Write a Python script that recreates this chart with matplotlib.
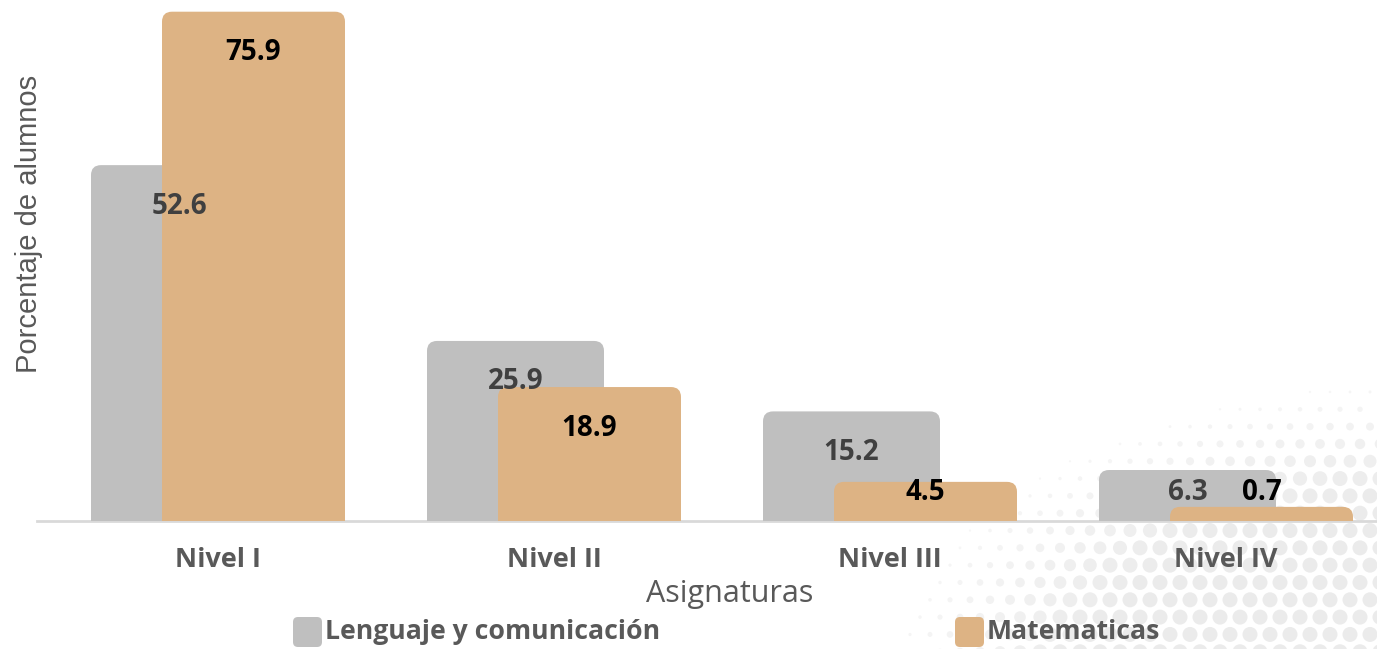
import numpy as np
import matplotlib
matplotlib.use("Agg")
import matplotlib.pyplot as plt
from matplotlib.patches import FancyBboxPatch
from matplotlib.transforms import IdentityTransform

# datos
niveles = ["Nivel I", "Nivel II", "Nivel III", "Nivel IV"]
lenguaje = [52.6, 25.9, 15.2, 6.3]
matematicas = [75.9, 18.9, 4.5, 0.7]
series_names = ["Lenguaje y comunicación", "Matematicas"]

gris = "#BFBFBF"
naranja = "#DDB384"
txt = "#595959"

W, H = 1377, 649
fig = plt.figure(figsize=(W / 100, H / 100), dpi=100)

# fondo de puntos (decoracion)
bg = fig.add_axes([0, 0, 1, 1], zorder=-5)
bg.set_xlim(0, W)
bg.set_ylim(H, 0)
bg.axis("off")
sp = 20.0
xs, ys, rs, cs = [], [], [], []
for j, yy in enumerate(np.arange(340, H + sp, sp * 0.866)):
    off = (sp / 2) * (j % 2)
    for xx in np.arange(800 + off, W + sp, sp):
        d = np.hypot((1420 - xx) / 560, (700 - yy) / 330)
        r = min(7.5, 24 * (1 - d))
        if r > 1.0:
            xs.append(xx)
            ys.append(yy)
            rs.append(r)
            g = 0.92 + 0.05 * max(0, (d - 0.6) / 0.4)
            cs.append((g, g, g))
bg.scatter(xs, ys, s=(np.array(rs) * 0.72 * 2) ** 2, c=cs, lw=0)

# ejes principales
k = 6.585      # px por unidad
base = 521
ax = fig.add_axes([37 / W, (H - base) / H, (W - 37) / W, base / H])
ax.patch.set_alpha(0)
centro0 = 218
ax.set_xlim((37 - centro0) / 336, (W - centro0) / 336)
ax.set_ylim(0, base / k)
for s in ["top", "right", "left"]:
    ax.spines[s].set_visible(False)
ax.spines["bottom"].set_color("#D9D9D9")
ax.spines["bottom"].set_linewidth(2)
ax.spines["bottom"].set_zorder(1)
ax.set_yticks([])
ax.set_xticks([])

x = np.arange(len(niveles))
cap = 9.5 / k
rad = 10 / 336
aspect = 336 / k

b1 = ax.bar(x - 127 / 336, lenguaje, 177 / 336, align="edge", visible=False)
b2 = ax.bar(x - 56 / 336, matematicas, 183 / 336, align="edge", visible=False)


def redondear(rects, color, z):
    for r in rects:
        p = FancyBboxPatch((r.get_x(), -3), r.get_width(), r.get_height() + cap + 3,
                           boxstyle=f"round,pad=0,rounding_size={rad}",
                           mutation_aspect=aspect, fc=color, ec="none", zorder=z)
        ax.add_patch(p)


redondear(b1, gris, 2)
redondear(b2, naranja, 3)


def etiquetas(rects, vals, color):
    for r, v in zip(rects, vals):
        yy = max(v + cap - 41 / k, 29 / k)
        ax.text(r.get_x() + r.get_width() / 2, yy, f"{v:.1f}", ha="center", va="center",
                fontsize=20, fontweight="bold", color=color, family="Open Sans", zorder=5)


etiquetas(b2, matematicas, "black")
etiquetas(b1, lenguaje, "#404040")

for i, n in enumerate(niveles):
    ax.text(i, -39 / k, n, ha="center", va="center", fontsize=19.5, fontweight="bold",
            color=txt, family="Open Sans", clip_on=False)

fig.text(730 / W, 1 - 594 / H, "Asignaturas", ha="center", va="center", fontsize=22,
         color=txt, family="Open Sans")
fig.text(29 / W, 1 - 224 / H, "Porcentaje de alumnos", ha="center", va="center",
         rotation=90, fontsize=21, color=txt, family="Liberation Sans")

# leyenda
for (sx, tx), name, col in zip([(293, 325), (955, 987)], series_names, [gris, naranja]):
    fig.patches.append(FancyBboxPatch((sx, 2), 29, 30, boxstyle="round,pad=0,rounding_size=5",
                                      transform=IdentityTransform(), fc=col, ec="none"))
    fig.text(tx / W, 1 - 632 / H, name, ha="left", va="center", fontsize=19.2,
             fontweight="bold", color=txt, family="Open Sans")

fig.savefig("out.png", dpi=100)
